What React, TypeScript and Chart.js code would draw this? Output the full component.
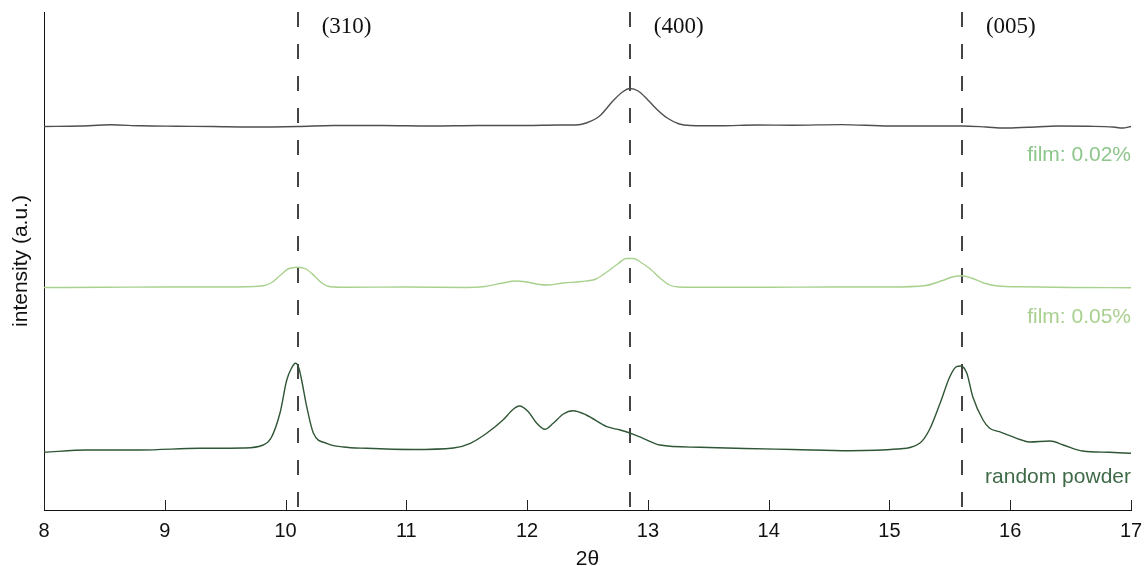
import React, { useEffect, useRef } from "react";
import { Chart, registerables } from "chart.js";

Chart.register(...registerables);

// ---- data (2θ positions and intensities, a.u.) ----
const xTicks = [8, 9, 10, 11, 12, 13, 14, 15, 16, 17];

const filmLowX = [8.0, 8.3, 8.55, 8.8, 9.1, 9.4, 9.7, 10.1, 10.4, 10.8, 11.2, 11.6, 12.0, 12.25, 12.4, 12.49, 12.6, 12.71, 12.79, 12.85, 12.92, 13.0, 13.08, 13.16, 13.26, 13.35, 13.6, 13.9, 14.2, 14.6, 15.0, 15.3, 15.6, 15.8, 15.95, 16.15, 16.4, 16.65, 16.85, 16.93, 17.0];
const filmLowY = [383.5, 384, 385.2, 384.2, 383.8, 383.5, 383, 383.5, 384.5, 384.5, 384, 384.5, 384.5, 385, 385, 387, 394, 409, 418, 421.5, 419, 410, 400, 392, 386, 384.5, 384.2, 385, 384.8, 385.4, 384, 384, 384, 383, 382, 382.8, 384, 383.7, 383, 382, 383.5];

const filmHighX = [8.0, 8.5, 9.0, 9.5, 9.8, 9.88, 9.95, 10.02, 10.1, 10.17, 10.24, 10.3, 10.37, 10.5, 11.0, 11.5, 11.65, 11.8, 11.9, 12.0, 12.1, 12.18, 12.3, 12.45, 12.57, 12.66, 12.75, 12.82, 12.88, 12.95, 13.02, 13.1, 13.17, 13.25, 13.5, 14.0, 14.5, 15.0, 15.3, 15.44, 15.52, 15.6, 15.68, 15.78, 15.9, 16.1, 16.5, 17.0];
const filmHighY = [222.5, 222.7, 223, 223, 224, 227, 234, 241, 242.7, 241, 234, 227, 223.2, 222.7, 223, 222.5, 223.5, 227, 229, 228, 225.5, 225, 227, 228.5, 231, 238, 246, 251.5, 251.5, 247, 241, 232, 225.5, 223, 222.7, 222.7, 223, 223, 224.5, 229.5, 233, 234.3, 232, 227, 224, 223.2, 222.5, 222.3];

const powderX = [8.0, 8.36, 8.8, 9.29, 9.65, 9.815, 9.88, 9.954, 10.01, 10.05, 10.083, 10.11, 10.133, 10.175, 10.23, 10.34, 10.48, 10.67, 11.05, 11.39, 11.53, 11.665, 11.8, 11.885, 11.935, 12.01, 12.08, 12.147, 12.216, 12.3, 12.38, 12.49, 12.66, 12.77, 12.85, 12.96, 13.1, 13.43, 13.8, 14.2, 14.67, 15.06, 15.25, 15.33, 15.42, 15.5, 15.555, 15.59, 15.64, 15.69, 15.775, 15.83, 15.91, 16.11, 16.16, 16.33, 16.44, 16.6, 16.82, 17.0];
const powderY = [57.7, 60, 60, 61.7, 62, 65, 72, 97, 130, 142, 146.7, 142, 130, 103.3, 77, 66.7, 63, 61.7, 60.5, 62, 66.7, 76.7, 90, 100.7, 104, 98.3, 86.7, 80.7, 86.7, 96, 99.3, 95, 83.3, 80, 77, 71.7, 65, 62.7, 61.5, 60.5, 59.3, 61, 66.7, 80, 107, 133.3, 143.3, 144, 137, 113.3, 90, 81.7, 78.3, 69.3, 68, 69, 65, 59, 57.7, 56.7];

const seriesNames = ["film: 0.02%", "film: 0.05%", "random powder"];
const seriesLabelY = [355, 193, 33];

const peakPositions = [10.1, 12.85, 15.6];
const peakLabels = ["(310)", "(400)", "(005)"];

const Y_MAX = 498;

const lineColors = ["#4f4f4f", "#a9d18e", "#2f5636"];
const labelColors = ["#8dc68b", "#a8d08e", "#3e6a48"];

const toPoints = (xs: number[], ys: number[]) => xs.map((x, i) => ({ x, y: ys[i] }));

const overlayPlugin = {
  id: "overlay",
  beforeDatasetsDraw(chart: any) {
    const { ctx, chartArea, scales } = chart;
    const xs = scales.x;
    ctx.save();
    ctx.strokeStyle = "#444";
    ctx.lineWidth = 2;
    ctx.setLineDash([15, 17]);
    peakPositions.forEach((p) => {
      const px = Math.round(xs.getPixelForValue(p));
      ctx.beginPath();
      ctx.moveTo(px, chartArea.top);
      ctx.lineTo(px, chartArea.bottom);
      ctx.stroke();
    });
    ctx.restore();
  },
  afterDraw(chart: any) {
    const { ctx, chartArea, scales } = chart;
    const xs = scales.x;
    const ys = scales.y;
    ctx.save();
    // inward tick marks
    ctx.strokeStyle = "#222";
    ctx.lineWidth = 1;
    xTicks.forEach((t) => {
      const px = Math.round(xs.getPixelForValue(t)) + 0.5;
      ctx.beginPath();
      ctx.moveTo(px, chartArea.bottom);
      ctx.lineTo(px, chartArea.bottom - 10);
      ctx.stroke();
    });
    // peak labels
    ctx.fillStyle = "#111";
    ctx.font = '23px "Liberation Serif", "Times New Roman", serif';
    ctx.textAlign = "left";
    ctx.textBaseline = "middle";
    peakPositions.forEach((p, i) => {
      const px = xs.getPixelForValue(p);
      ctx.fillText(peakLabels[i], px + 24, chartArea.top + 15);
    });
    // series labels
    ctx.font = '21px "Liberation Sans", Arial, sans-serif';
    ctx.textAlign = "right";
    seriesNames.forEach((name, i) => {
      ctx.fillStyle = labelColors[i];
      ctx.fillText(name, chartArea.right, ys.getPixelForValue(seriesLabelY[i]));
    });
    ctx.restore();
  },
};

export default function App() {
  const ref = useRef<HTMLCanvasElement>(null);
  useEffect(() => {
    const chart = new Chart(ref.current!, {
      type: "line",
      data: {
        datasets: [
          { label: seriesNames[0], data: toPoints(filmLowX, filmLowY), borderColor: lineColors[0] },
          { label: seriesNames[1], data: toPoints(filmHighX, filmHighY), borderColor: lineColors[1] },
          { label: seriesNames[2], data: toPoints(powderX, powderY), borderColor: lineColors[2] },
        ].map((d) => ({
          ...d,
          borderWidth: 1.4,
          pointRadius: 0,
          fill: false,
          cubicInterpolationMode: "monotone" as const,
        })),
      },
      options: {
        responsive: false,
        animation: false,
        events: [],
        layout: { padding: { left: 0, right: 14, top: 12, bottom: 0 } },
        plugins: { legend: { display: false }, tooltip: { enabled: false } },
        scales: {
          x: {
            type: "linear",
            min: 8,
            max: 17,
            afterFit: (s: any) => {
              s.height = 56;
              s.paddingLeft = 0;
              s.paddingRight = 0;
            },
            afterBuildTicks: (s: any) => {
              s.ticks = xTicks.map((v) => ({ value: v }));
            },
            ticks: {
              color: "#111",
              padding: 9,
              font: { family: '"Liberation Sans", Arial, sans-serif', size: 20 },
              callback: (v: any) => String(v),
            },
            grid: { drawOnChartArea: false, drawTicks: false },
            border: { color: "#111", width: 1 },
            title: {
              display: true,
              text: "2θ",
              color: "#111",
              font: { family: '"Liberation Sans", Arial, sans-serif', size: 21 },
              padding: { top: 0, bottom: -6 },
            },
          },
          y: {
            type: "linear",
            min: 0,
            max: Y_MAX,
            afterFit: (s: any) => {
              s.width = 44;
              s.paddingTop = 0;
              s.paddingBottom = 0;
            },
            ticks: { display: false },
            grid: { drawOnChartArea: false, drawTicks: false },
            border: { color: "#111", width: 1 },
            title: {
              display: true,
              text: "intensity (a.u.)",
              color: "#111",
              font: { family: '"Liberation Sans", Arial, sans-serif', size: 21 },
              padding: { top: 9, bottom: 0 },
            },
          },
        },
      },
      plugins: [overlayPlugin],
    } as any);
    return () => chart.destroy();
  }, []);
  return (
    <div style={{ position: "absolute", left: 0, top: 0, width: 1145, height: 566, background: "#fff" }}>
      <canvas ref={ref} width={1145} height={566} style={{ display: "block" }} />
    </div>
  );
}
